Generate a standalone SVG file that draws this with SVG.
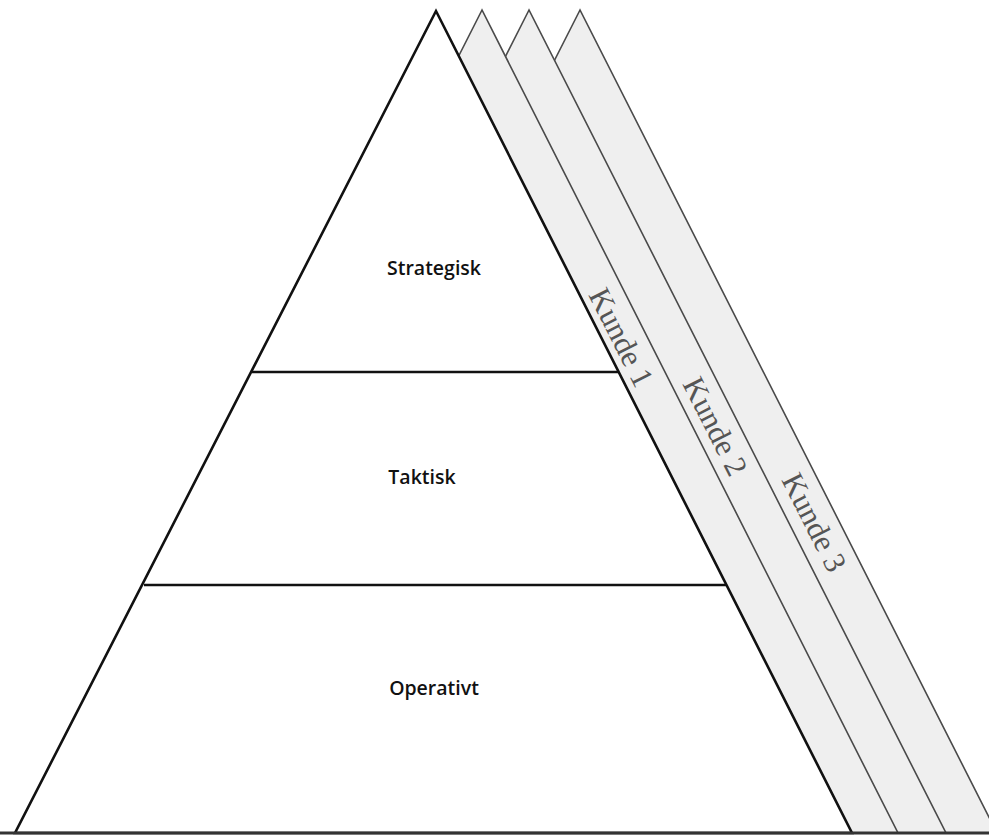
<svg xmlns="http://www.w3.org/2000/svg" width="989" height="836" viewBox="0 0 989 836">
<style>
.band{fill:#efefef;stroke:#4a4a4a;stroke-width:1.6;stroke-linejoin:miter}
.main{fill:#ffffff;stroke:#111;stroke-width:2.6;stroke-linejoin:miter}
.div{stroke:#111;stroke-width:2.4}
.lvl{font-family:"Open Sans","Liberation Sans",sans-serif;font-weight:600;font-size:19.5px;fill:#111;text-anchor:middle}
.kunde{font-family:"Liberation Serif",serif;font-size:31px;fill:#555;text-anchor:middle}
</style>
<rect width="989" height="836" fill="#ffffff"/>
<g id="kunde3">
<polygon class="band" points="580,10 163,833 997,833"/>
<text class="kunde" transform="translate(805,527) rotate(63.2)">Kunde 3</text>
</g>
<g id="kunde2">
<polygon class="band" points="529,10 112,833 946,833"/>
<text class="kunde" transform="translate(706,431) rotate(63.2)">Kunde 2</text>
</g>
<g id="kunde1">
<polygon class="band" points="482,10 65,833 898,833"/>
<text class="kunde" transform="translate(612,342) rotate(63.2)">Kunde 1</text>
</g>
<g id="pyramid">
<polygon class="main" points="436,11 15,833 852,833"/>
</g>
<g id="connectors">
<line class="div" x1="252" y1="372" x2="619" y2="372"/>
<line class="div" x1="144" y1="585" x2="726" y2="585"/>
<line x1="0" y1="833" x2="989" y2="833" stroke="#333" stroke-width="3"/>
</g>
<g id="strategisk"><text class="lvl" x="434" y="275">Strategisk</text></g>
<g id="taktisk"><text class="lvl" x="422" y="484">Taktisk</text></g>
<g id="operativt"><text class="lvl" x="434" y="695">Operativt</text></g>
</svg>
